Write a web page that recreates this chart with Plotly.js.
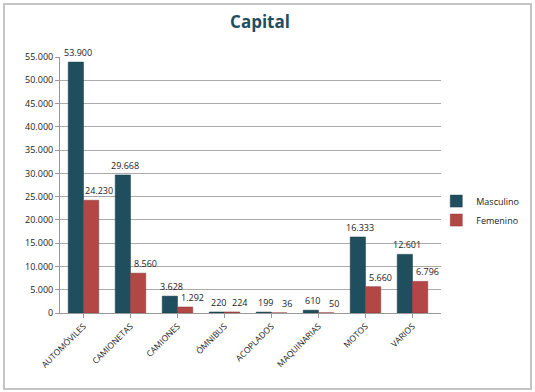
<!DOCTYPE html>
<html>
<head>
<meta charset="utf-8">
<script src="https://cdn.plot.ly/plotly-3.0.1.min.js"></script>
<style>
  html, body { margin: 0; padding: 0; background: #fff; }
  #wrap { position: relative; width: 535px; height: 392px; }
  #chart { width: 535px; height: 392px; }
  #frame { position: absolute; left: 3px; top: 3px; width: 525px; height: 383px;
           border: 2px solid #C4C4C4; pointer-events: none; }
</style>
</head>
<body>
<div id="wrap">
  <div id="chart"></div>
  <div id="frame"></div>
</div>
<script>
const categories = ['AUTOMÓVILES', 'CAMIONETAS', 'CAMIONES', 'ÓMNIBUS', 'ACOPLADOS', 'MAQUINARIAS', 'MOTOS', 'VARIOS'];
const masculino = [53900, 29668, 3628, 220, 199, 610, 16333, 12601];
const femenino = [24230, 8560, 1292, 224, 36, 50, 5660, 6796];
const yTicks = [0, 5000, 10000, 15000, 20000, 25000, 30000, 35000, 40000, 45000, 50000, 55000];

const font = 'Open Sans, Noto Sans, DejaVu Sans, sans-serif';

function fmt(v) {
  return String(v).replace(/\B(?=(\d{3})+(?!\d))/g, '.');
}

const traces = [
  {
    type: 'bar', name: 'Masculino', x: categories, y: masculino,
    marker: { color: '#1F4E5E', line: { color: '#173E4B', width: 0.5 } }
  },
  {
    type: 'bar', name: 'Femenino', x: categories, y: femenino,
    marker: { color: '#B24746', line: { color: '#8E3636', width: 0.5 } }
  }
];

const annotations = [];
categories.forEach((c, i) => {
  annotations.push({
    x: c, y: masculino[i], xref: 'x', yref: 'y', text: fmt(masculino[i]),
    showarrow: false, xanchor: 'center', yanchor: 'bottom', xshift: -6, yshift: 1,
    font: { family: font, size: 9, color: '#222' }
  });
  annotations.push({
    x: c, y: femenino[i], xref: 'x', yref: 'y', text: fmt(femenino[i]),
    showarrow: false, xanchor: 'center', yanchor: 'bottom', xshift: 15, yshift: 1,
    font: { family: font, size: 9, color: '#222' }
  });
});

const layout = {
  width: 535, height: 392,
  separators: ',.',
  margin: { l: 60, r: 93, t: 57, b: 79 },
  paper_bgcolor: '#fff', plot_bgcolor: '#fff',
  title: { text: '<b>Capital</b>', x: 0.486, xanchor: 'center', y: 0.945, yanchor: 'middle',
           font: { family: font, size: 17, color: '#1F4E5E' } },
  barmode: 'group', bargap: 0.35, bargroupgap: 0,
  showlegend: true,
  legend: { x: 0.985, xanchor: 'left', y: 0.40, yanchor: 'middle',
            font: { family: font, size: 9, color: '#222' },
            itemwidth: 30, tracegroupgap: 2, bgcolor: 'rgba(0,0,0,0)' },
  annotations: annotations,
  xaxis: {
    type: 'category', tickangle: -45, showgrid: false,
    showline: true, linecolor: '#999', linewidth: 1,
    ticks: 'outside', ticklen: 4, tickcolor: '#999',
    tickfont: { family: font, size: 8.5, color: '#222' }
  },
  yaxis: {
    range: [0, 55000], tickvals: yTicks, tickformat: ',.0f',
    showgrid: true, gridcolor: '#ABABAB', gridwidth: 1,
    showline: true, linecolor: '#999', linewidth: 1,
    ticks: 'outside', ticklen: 4, tickcolor: '#999',
    zeroline: false,
    tickfont: { family: font, size: 9, color: '#222' }
  }
};

Plotly.newPlot('chart', traces, layout, { displayModeBar: false, staticPlot: true });
</script>
</body>
</html>
